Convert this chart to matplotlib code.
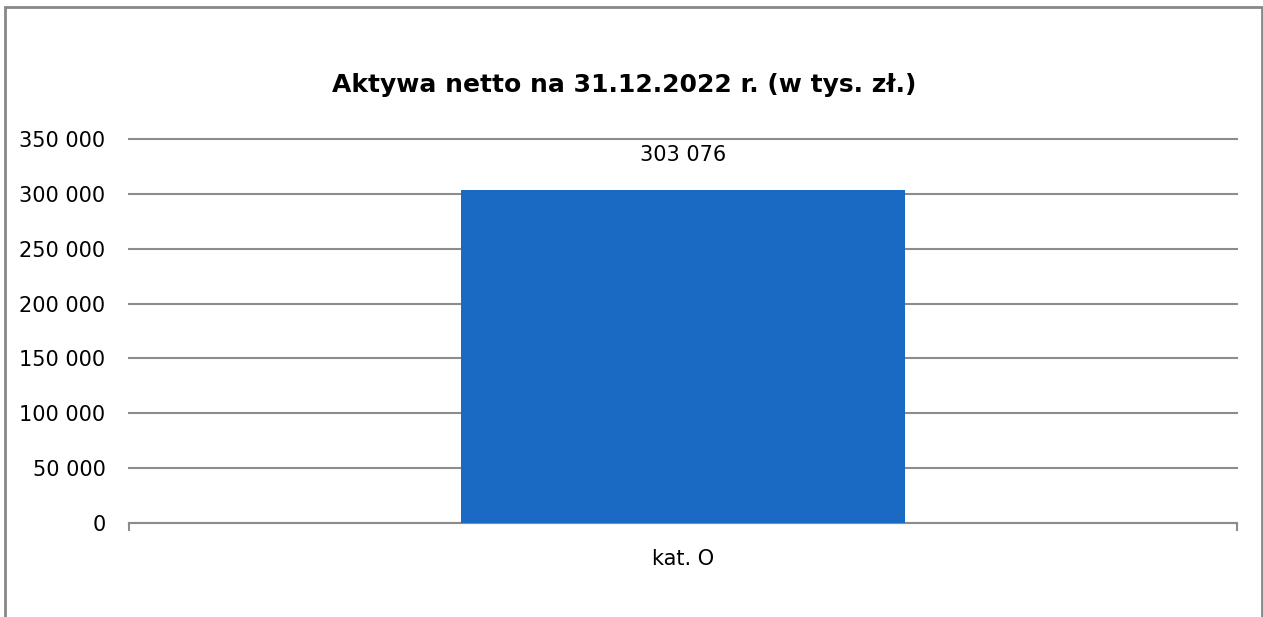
import matplotlib
matplotlib.use("Agg")
import matplotlib.pyplot as plt
from matplotlib.patches import Rectangle
from matplotlib.ticker import FuncFormatter

categories = ["kat. O"]
values = [303076]
title = "Aktywa netto na 31.12.2022 r. (w tys. zł.)"
yticks = [0, 50000, 100000, 150000, 200000, 250000, 300000, 350000]

W, H = 1263, 617
fig = plt.figure(figsize=(W / 100, H / 100), dpi=100)
plt.rcParams['font.family'] = ['DejaVu Sans']

ax = fig.add_axes([129 / W, 1 - 523 / H, (1237 - 129) / W, (523 - 139) / H])
grid_c = "#8c8c8c"
bar_c = "#1a6ac4"

ax.bar(range(len(categories)), values, width=0.4, color=bar_c, zorder=3)
ax.set_xlim(-0.5, len(categories) - 0.5)
ax.set_ylim(0, 350000)
ax.set_yticks(yticks)
ax.yaxis.set_major_formatter(FuncFormatter(lambda v, p: f"{int(v):,}".replace(",", " ")))
ax.grid(axis="y", color=grid_c, linewidth=1.5, zorder=0)
for gl in ax.get_ygridlines():
    gl.set_clip_on(False)
ax.tick_params(axis="y", length=0, pad=17, labelsize=15)
ax.set_xticks([-0.5, 0.5])
ax.set_xticklabels([])
ax.tick_params(axis="x", length=6, width=1.5, color=grid_c, direction="out")
for s in ["top", "right", "left"]:
    ax.spines[s].set_visible(False)
ax.spines["bottom"].set_color(grid_c)
ax.spines["bottom"].set_linewidth(1.5)

for i, (c, v) in enumerate(zip(categories, values)):
    ax.annotate(f"{v:,}".replace(",", " "), (i, v), xytext=(0, 21), textcoords="offset points",
                ha="center", va="baseline", fontsize=15, color="black")
    ax.annotate(c, (i, 0), xytext=(0, -30), textcoords="offset points",
                ha="center", va="baseline", fontsize=15, color="black")

fig.text(624 / W, 1 - 85 / H, title, ha="center", va="center", fontsize=18, fontweight="bold")

fig.patches.append(Rectangle((5 / W, -0.1), (1262 - 5) / W, 1 - 7 / H + 0.1, transform=fig.transFigure,
                             fill=False, edgecolor="#888888", linewidth=2))

fig.savefig("out.png", dpi=100)
